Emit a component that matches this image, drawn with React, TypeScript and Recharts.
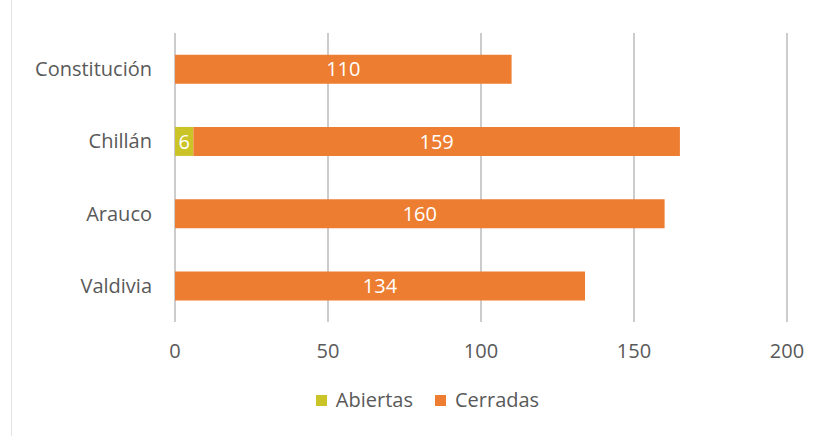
import { BarChart, Bar, XAxis, YAxis, CartesianGrid, Legend, LabelList } from "recharts";

const ciudades = ["Constitución", "Chillán", "Arauco", "Valdivia"];
const abiertas = [0, 6, 0, 0];
const cerradas = [110, 159, 160, 134];
const ticks = [0, 50, 100, 150, 200];

const data = ciudades.map((ciudad, i) => ({
  ciudad,
  Abiertas: abiertas[i],
  Cerradas: cerradas[i],
}));

const FONT = "'Open Sans', sans-serif";
const GRIS = "#595959";

const hideZero = (v: any) => (v ? v : "");

function LegendBox({ payload }: any) {
  return (
    <div style={{ display: "flex", justifyContent: "center", gap: 22, paddingLeft: 58, fontFamily: FONT, fontSize: 20, color: GRIS, lineHeight: "24px" }}>
      {(payload || []).map((p: any) => (
        <span key={p.value} style={{ display: "flex", alignItems: "center", gap: 9 }}>
          <span style={{ width: 11, height: 11, background: p.color, display: "inline-block" }} />
          {p.value}
        </span>
      ))}
    </div>
  );
}

export default function App() {
  return (
    <div style={{ position: "absolute", left: 0, top: 0, width: 823, height: 436, background: "#fff" }}>
      <div style={{ position: "absolute", left: 11, top: 0, width: 1, height: 436, background: "#e3e3e3" }} />
      <BarChart
        width={823}
        height={436}
        data={data}
        layout="vertical"
        barCategoryGap="30%"
        margin={{ top: 33, right: 36, bottom: 24, left: 10 }}
      >
        <CartesianGrid horizontal={false} stroke="#cccccc" strokeWidth={2} />
        <XAxis
          type="number"
          domain={[0, 200]}
          ticks={ticks}
          axisLine={false}
          tickLine={false}
          tickMargin={16}
          height={66}
          tick={{ fill: GRIS, fontSize: 20, fontFamily: FONT }}
        />
        <YAxis
          type="category"
          dataKey="ciudad"
          width={165}
          axisLine={false}
          tickLine={false}
          tickMargin={17}
          tick={{ fill: GRIS, fontSize: 20, fontFamily: FONT }}
        />
        <Legend verticalAlign="bottom" content={<LegendBox />} />
        <Bar dataKey="Abiertas" stackId="a" fill="#CBC428" isAnimationActive={false}>
          <LabelList dataKey="Abiertas" position="center" fill="#fff" fontSize={20} fontFamily={FONT} formatter={hideZero} />
        </Bar>
        <Bar dataKey="Cerradas" stackId="a" fill="#ED7D31" isAnimationActive={false}>
          <LabelList dataKey="Cerradas" position="center" fill="#fff" fontSize={20} fontFamily={FONT} formatter={hideZero} />
        </Bar>
      </BarChart>
    </div>
  );
}
